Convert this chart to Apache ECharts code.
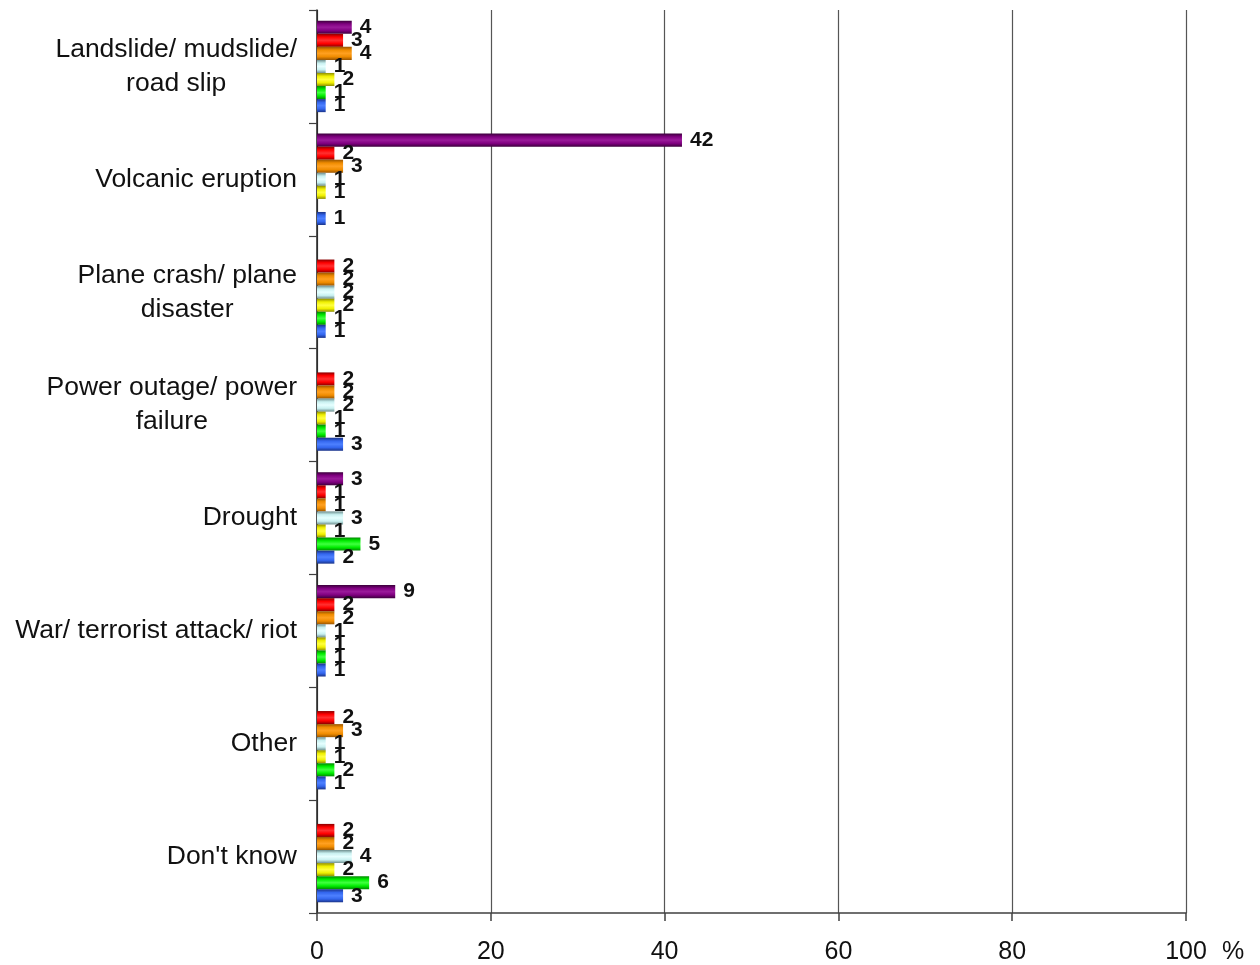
<!DOCTYPE html>
<html>
<head>
<meta charset="utf-8">
<script src="https://cdn.jsdelivr.net/npm/echarts@6/dist/echarts.min.js"></script>
<style>
html,body{margin:0;padding:0;background:#fff;}
#chart{width:1260px;height:965px;}
</style>
</head>
<body>
<div id="chart"></div>
<script>
const categories = [
  "Landslide/ mudslide/\nroad slip",
  "Volcanic eruption",
  "Plane crash/ plane\ndisaster",
  "Power outage/ power\nfailure",
  "Drought",
  "War/ terrorist attack/ riot",
  "Other",
  "Don't know"
];
const xTicks = [0, 20, 40, 60, 80, 100];

const seriesPurple = [4, 42, null, null, 3, 9, null, null];
const seriesRed    = [3, 2, 2, 2, 1, 2, 2, 2];
const seriesOrange = [4, 3, 2, 2, 1, 2, 3, 2];
const seriesCyan   = [1, 1, 2, 2, 3, 1, 1, 4];
const seriesYellow = [2, 1, 2, 1, 1, 1, 1, 2];
const seriesGreen  = [1, null, 1, 1, 5, 1, 2, 6];
const seriesBlue   = [1, 1, 1, 3, 2, 1, 1, 3];

const seriesList = [
  {name: "s1", data: seriesPurple, dark: "#3d003d", base: "#800080", light: "#9a1a9a"},
  {name: "s2", data: seriesRed,    dark: "#8a0000", base: "#ff0000", light: "#ff3030"},
  {name: "s3", data: seriesOrange, dark: "#9a5500", base: "#f08c00", light: "#ffa020"},
  {name: "s4", data: seriesCyan,   dark: "#6f8f8f", base: "#c8f0f0", light: "#e6ffff"},
  {name: "s5", data: seriesYellow, dark: "#8f8f00", base: "#f0f000", light: "#ffff40"},
  {name: "s6", data: seriesGreen,  dark: "#008a00", base: "#00ee00", light: "#40ff40"},
  {name: "s7", data: seriesBlue,   dark: "#1a3388", base: "#3366ee", light: "#4d80ff"}
];

function grad(s) {
  return new echarts.graphic.LinearGradient(0, 0, 0, 1, [
    {offset: 0, color: s.dark},
    {offset: 0.25, color: s.base},
    {offset: 0.5, color: s.light},
    {offset: 0.75, color: s.base},
    {offset: 1, color: s.dark}
  ]);
}

const chart = echarts.init(document.getElementById('chart'), null, {renderer: 'canvas'});
const option = {
  animation: false,
  backgroundColor: '#ffffff',
  grid: {left: 317, right: 74, top: 10, bottom: 52, containLabel: false},
  xAxis: {
    type: 'value',
    min: 0, max: 100, interval: 20,
    position: 'bottom',
    name: '%',
    nameLocation: 'end',
    nameGap: 36,
    nameTextStyle: {
      fontFamily: 'Liberation Sans', fontSize: 25, color: '#111',
      align: 'left', verticalAlign: 'top', padding: [27, 0, 0, 0]
    },
    axisLine: {show: true, lineStyle: {color: '#404040', width: 1.5}},
    axisTick: {show: true, inside: false, length: 8, lineStyle: {color: '#404040', width: 1.5}},
    axisLabel: {
      margin: 27,
      fontFamily: 'Liberation Sans', fontSize: 25, color: '#111',
      formatter: function (v) { return xTicks.indexOf(v) >= 0 ? String(v) : ''; }
    },
    splitLine: {show: true, lineStyle: {color: '#555', width: 1.2}}
  },
  yAxis: {
    type: 'category',
    inverse: true,
    data: categories,
    axisLine: {show: true, lineStyle: {color: '#222', width: 1.5}},
    axisTick: {show: true, length: 8, alignWithLabel: false, lineStyle: {color: '#404040', width: 1.2}},
    axisLabel: {
      margin: 20,
      align: 'right',
      formatter: function (v) {
        return v.split('\n').map(function (l) { return '{c|' + l + '}'; }).join('\n');
      },
      rich: {
        c: {align: 'center', fontFamily: 'Liberation Sans', fontSize: 26.5, lineHeight: 34, color: '#111'}
      }
    },
    splitLine: {show: false}
  },
  series: seriesList.map(function (s) {
    return {
      type: 'bar',
      name: s.name,
      data: s.data,
      barGap: '0%',
      barCategoryGap: '19%',
      itemStyle: {color: grad(s)},
      label: {
        show: true,
        position: 'right',
        distance: 8,
        fontFamily: 'Liberation Sans',
        fontWeight: 'bold',
        fontSize: 21,
        color: '#111'
      }
    };
  })
};
chart.setOption(option);
</script>
</body>
</html>
